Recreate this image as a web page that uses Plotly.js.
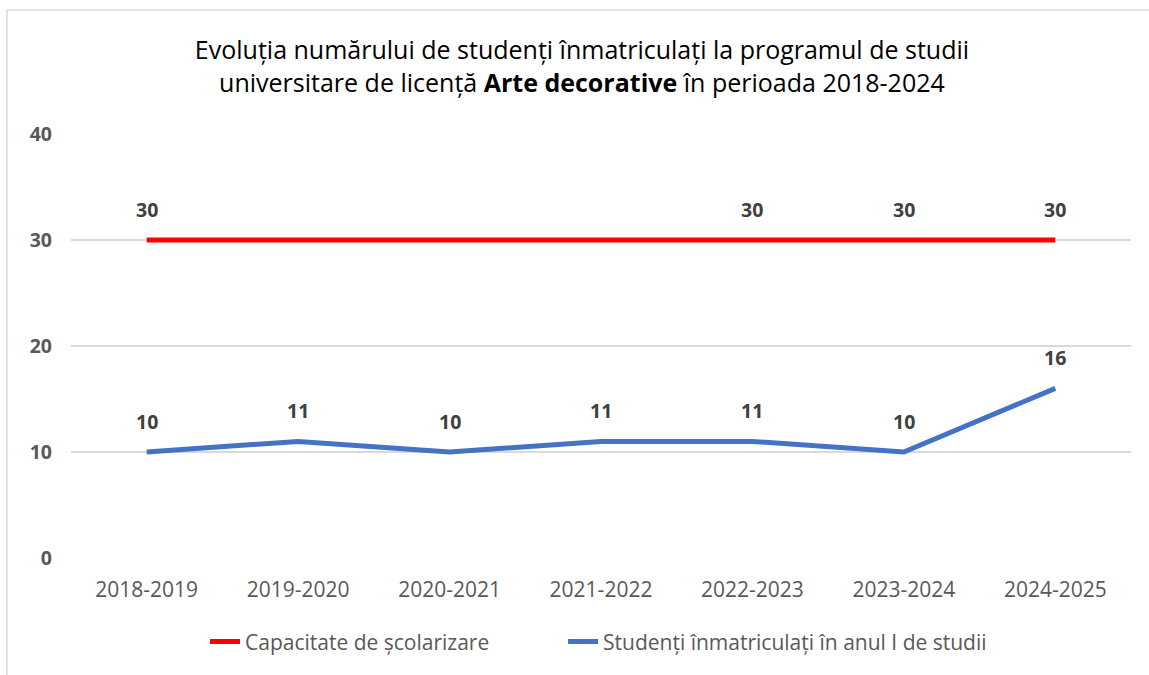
<!DOCTYPE html>
<html>
<head>
<meta charset="utf-8">
<script src="https://cdn.plot.ly/plotly-3.0.1.min.js"></script>
<style>html,body{margin:0;padding:0;background:#fff;}#chart{width:1149px;height:675px;}</style>
</head>
<body>
<div id="chart"></div>
<script>
const categories = ["2018-2019","2019-2020","2020-2021","2021-2022","2022-2023","2023-2024","2024-2025"];
const capacity = [30,30,30,30,30,30,30];
const enrolled = [10,11,10,11,11,10,16];
const capacityLabels = ["30","","","","30","30","30"];
const enrolledLabels = ["10","11","10","11","11","10","16"];
const yTicks = [0,10,20,30,40];
const seriesNames = ["Capacitate de școlarizare","Studenți înmatriculați în anul I de studii"];

const FONT = "'Open Sans', 'Noto Sans', sans-serif";

const traces = [
  {x: categories, y: capacity, name: seriesNames[0], type: "scatter", mode: "lines",
   line: {color: "#FF0000", width: 5}, legend: "legend"},
  {x: categories, y: enrolled, name: seriesNames[1], type: "scatter", mode: "lines",
   line: {color: "#4472C4", width: 5}, legend: "legend2"}
];

const annotations = [];
function addLabels(ys, labels) {
  ys.forEach((v, i) => {
    if (!labels[i]) return;
    annotations.push({x: categories[i], y: v, xref: "x", yref: "y", text: labels[i],
      showarrow: false, yshift: 31, xanchor: "center", yanchor: "middle",
      font: {family: FONT, size: 19.5, color: "#404040", weight: "bold"}});
  });
}
addLabels(capacity, capacityLabels);
addLabels(enrolled, enrolledLabels);

const legendFont = {family: FONT, size: 21, color: "#595959"};

const layout = {
  width: 1149, height: 675,
  margin: {l: 71, r: 18, t: 134, b: 117},
  paper_bgcolor: "#fff", plot_bgcolor: "#fff",
  title: {
    text: "Evoluția numărului de studenți înmatriculați la programul de studii<br>universitare de licență <b>Arte decorative</b> în perioada 2018-2024",
    font: {family: FONT, size: 25, color: "#000"},
    x: 0.5065, xanchor: "center", xref: "container",
    y: 0.912, yanchor: "top", yref: "container"
  },
  xaxis: {
    type: "category", range: [-0.5, 6.5], showgrid: false, showline: false, zeroline: false, ticks: "",
    tickfont: {family: FONT, size: 21, color: "#595959"},
    ticklabelstandoff: 17
  },
  yaxis: {
    range: [0, 40], tickvals: yTicks, showgrid: true, gridcolor: "#D9D9D9", gridwidth: 1.5,
    zeroline: false, showline: false, ticks: "",
    tickfont: {family: FONT, size: 19.5, color: "#595959", weight: "bold"},
    ticklabelstandoff: 18
  },
  showlegend: true,
  legend: {orientation: "h", x: 0.1264, xanchor: "left", y: -0.198, yanchor: "middle",
    font: legendFont, itemwidth: 30, bgcolor: "rgba(0,0,0,0)"},
  legend2: {orientation: "h", x: 0.4642, xanchor: "left", y: -0.198, yanchor: "middle",
    font: legendFont, itemwidth: 30, bgcolor: "rgba(0,0,0,0)"},
  annotations: annotations,
  shapes: [
    {type: "line", xref: "paper", yref: "paper", x0: -0.0604, x1: -0.0604, y0: 1.2925, y1: -0.3,
     line: {color: "#D9D9D9", width: 1.5}},
    {type: "line", xref: "paper", yref: "paper", x0: -0.0604, x1: 1.05, y0: 1.2925, y1: 1.2925,
     line: {color: "#D9D9D9", width: 1.5}}
  ]
};

Plotly.newPlot("chart", traces, layout, {displayModeBar: false, staticPlot: true});
</script>
</body>
</html>
